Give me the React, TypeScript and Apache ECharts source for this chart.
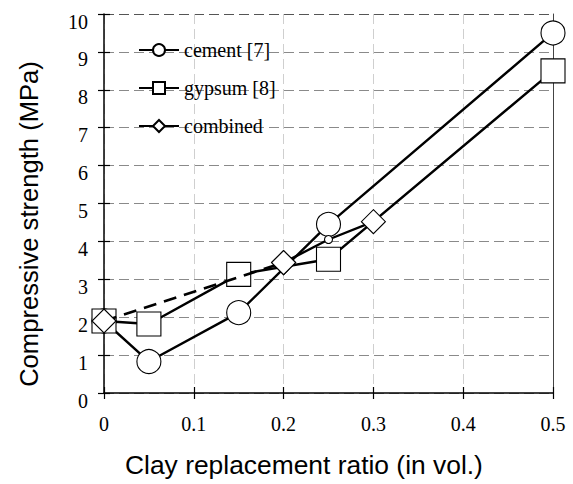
import React, { useEffect, useRef } from "react";
import * as echarts from "echarts";

const cementX = [0, 0.05, 0.15, 0.25, 0.5];
const cementY = [1.9, 0.83, 2.12, 4.45, 9.5];
const gypsumX = [0, 0.05, 0.15, 0.25, 0.5];
const gypsumY = [1.9, 1.82, 3.13, 3.53, 8.5];
const combinedX = [0, 0.2, 0.25, 0.3];
const combinedY = [1.9, 3.44, 4.05, 4.52];
const legendNames = ["cement [7]", "gypsum [8]", "combined"];
const xTitle = "Clay replacement ratio (in vol.)";
const yTitle = "Compressive strength (MPa)";

const SERIF = "'Liberation Serif', 'Times New Roman', serif";
const SANS = "'Liberation Sans', Arial, sans-serif";

export default function App() {
  const ref = useRef<HTMLDivElement>(null);
  useEffect(() => {
    if (!ref.current) return;
    const chart = echarts.init(ref.current, undefined, { renderer: "svg" });
    const zip = (xs: number[], ys: number[]) => xs.map((x, i) => [x, ys[i]]);
    const lineStyle = { color: "#000", width: 2.4 };
    const itemStyle = { color: "#fff", borderColor: "#000", borderWidth: 1.1 };
    const hGridColors = Array.from({ length: 11 }, (_, i) => (i === 10 ? "#555" : "#8a8a8a"));
    const combinedPts = zip(combinedX, combinedY);
    const option: any = {
      animation: false,
      grid: { left: 104, right: 20, top: 14, bottom: 91, containLabel: false },
      legend: {
        data: legendNames,
        orient: "vertical",
        left: 133,
        top: 35,
        padding: 5,
        itemWidth: 40,
        itemHeight: 15,
        itemGap: 18,
        textStyle: { fontFamily: SERIF, fontSize: 20, color: "#000" },
        selectedMode: false,
      },
      xAxis: [
        {
          type: "value",
          min: 0,
          max: 0.5,
          interval: 0.1,
          position: "bottom",
          axisLine: { show: true, lineStyle: { color: "#000", width: 1.5 } },
          axisTick: { show: true, inside: false, length: 6, lineStyle: { color: "#000", width: 1.2 } },
          axisLabel: { fontFamily: SERIF, fontSize: 20, color: "#000", margin: 21 },
          splitLine: { show: true, lineStyle: { color: "#cfcfcf", type: [10, 5], width: 1 } },
        },
        {
          type: "value",
          min: 0,
          max: 0.5,
          interval: 0.1,
          position: "bottom",
          axisLine: { show: false },
          axisTick: { show: true, inside: true, length: 6, lineStyle: { color: "#000", width: 1.2 } },
          axisLabel: { show: false },
          splitLine: { show: false },
        },
      ],
      yAxis: [
        {
          type: "value",
          min: 0,
          max: 10,
          interval: 1,
          position: "left",
          axisLine: { show: true, lineStyle: { color: "#000", width: 1.5 } },
          axisTick: { show: true, inside: false, length: 6, lineStyle: { color: "#000", width: 1.2 } },
          axisLabel: {
            fontFamily: SERIF,
            fontSize: 20,
            color: "#000",
            margin: 16,
            verticalAlign: "top",
            lineHeight: 15,
          },
          splitLine: { show: true, lineStyle: { color: hGridColors, type: [10, 5], width: 1 } },
        },
        {
          type: "value",
          min: 0,
          max: 10,
          interval: 1,
          position: "left",
          axisLine: { show: false },
          axisTick: { show: true, inside: true, length: 6, lineStyle: { color: "#000", width: 1.2 } },
          axisLabel: { show: false },
          splitLine: { show: false },
        },
        {
          type: "value",
          min: 0,
          max: 10,
          interval: 1,
          position: "right",
          axisLine: { show: true, lineStyle: { color: "#444", width: 1 } },
          axisTick: { show: false },
          axisLabel: { show: false },
          splitLine: { show: false },
        },
      ],
      graphic: [
        {
          type: "text",
          left: 125,
          top: 452,
          style: { text: xTitle, font: `26.4px ${SANS}`, fill: "#000" },
        },
        {
          type: "text",
          x: 29,
          y: 224,
          rotation: Math.PI / 2,
          style: { text: yTitle, font: `25.6px ${SANS}`, fill: "#000", align: "center", verticalAlign: "middle" },
        },
      ],
      series: [
        {
          name: "cement [7]",
          type: "line",
          data: zip(cementX, cementY),
          symbol: "circle",
          symbolSize: 24,
          lineStyle,
          itemStyle,
          emphasis: { disabled: true },
          z: 2,
        },
        {
          name: "gypsum [8]",
          type: "line",
          data: zip(gypsumX, gypsumY),
          symbol: "rect",
          symbolSize: 24,
          lineStyle,
          itemStyle,
          emphasis: { disabled: true },
          z: 3,
        },
        {
          name: "combined-dash",
          type: "line",
          data: combinedPts.slice(0, 2),
          symbol: "diamond",
          symbolSize: 24,
          lineStyle: { color: "#000", width: 2.6, type: [13, 8] },
          itemStyle,
          emphasis: { disabled: true },
          z: 4,
        },
        {
          name: "combined",
          type: "line",
          data: combinedPts.slice(1).map((p, i) =>
            i === 1 ? { value: p, symbol: "circle", symbolSize: 8 } : { value: p }
          ),
          symbol: "diamond",
          symbolSize: 24,
          lineStyle,
          itemStyle,
          emphasis: { disabled: true },
          z: 4,
        },
      ],
    };
    chart.setOption(option);
    return () => chart.dispose();
  }, []);
  return (
    <div
      ref={ref}
      style={{ position: "fixed", left: 0, top: 0, width: 573, height: 484, background: "#fff" }}
    />
  );
}
